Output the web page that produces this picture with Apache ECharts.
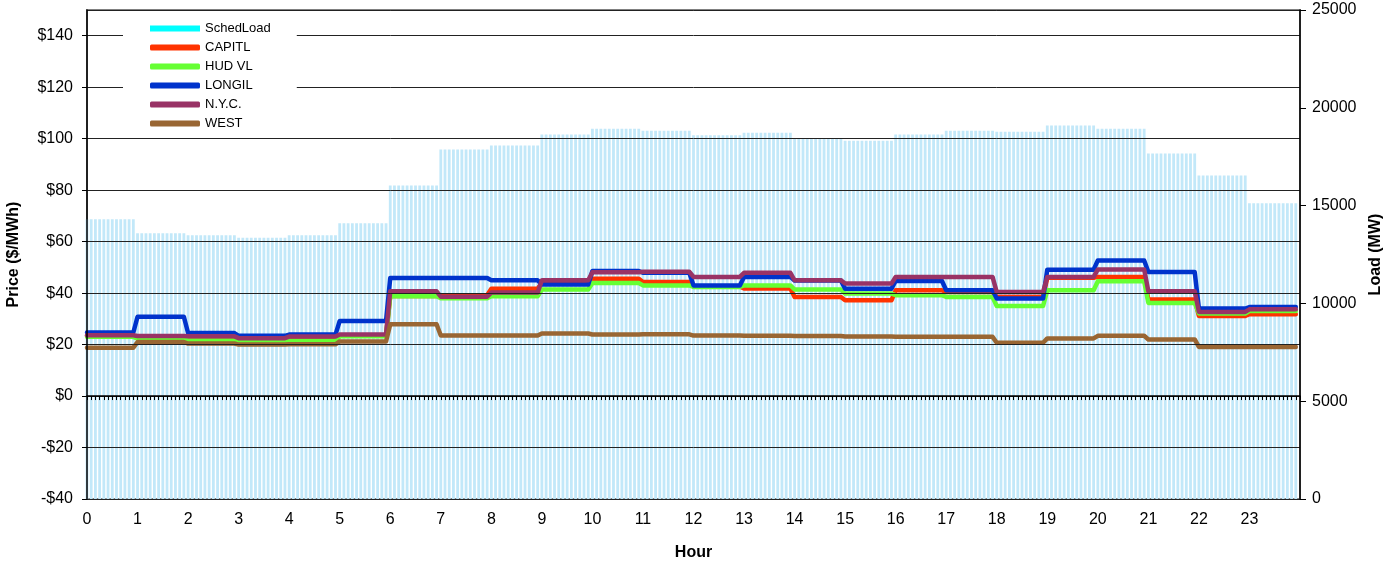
<!DOCTYPE html>
<html>
<head>
<meta charset="utf-8">
<script src="https://cdn.jsdelivr.net/npm/echarts@6/dist/echarts.min.js"></script>
<style>
  html, body { margin: 0; padding: 0; background: #fff; }
  #chart { width: 1390px; height: 567px; }
</style>
</head>
<body>
<div id="chart"></div>
<script>
// hourly values (hour 0..23)
const hours = [0, 1, 2, 3, 4, 5, 6, 7, 8, 9, 10, 11, 12, 13, 14, 15, 16, 17, 18, 19, 20, 21, 22, 23]
const intervalsPerHour = 12 // 5-minute intervals

const schedLoad = [14300, 13590, 13490, 13350, 13490, 14100, 16030, 17870, 18070, 18630, 18930, 18830,
  18600, 18730, 18430, 18320, 18630, 18830, 18780, 19090, 18930, 17660, 16540, 15120]
const capitl = [23.5, 22.5, 22.0, 21.5, 22.0, 23.5, 38.9, 39.2, 41.7, 44.0, 45.6, 44.3,
  42.6, 41.8, 38.5, 37.2, 41.1, 40.4, 38.5, 46.0, 46.3, 37.5, 31.1, 31.8]
const hudVl = [23.0, 22.3, 21.6, 21.2, 21.5, 23.2, 38.8, 38.0, 38.8, 41.4, 43.9, 43.0,
  42.4, 43.0, 41.4, 39.8, 39.2, 38.5, 35.0, 41.1, 44.6, 36.2, 32.1, 33.0]
const longil = [24.7, 30.8, 24.5, 23.4, 23.9, 29.2, 45.9, 45.9, 45.0, 43.3, 48.6, 47.9,
  43.0, 46.3, 44.9, 41.7, 44.7, 41.1, 37.9, 49.1, 52.7, 48.2, 34.0, 34.6]
const nyc = [23.6, 23.3, 23.2, 22.5, 23.1, 23.9, 40.7, 38.6, 40.2, 45.0, 48.1, 48.3,
  46.3, 47.9, 45.0, 43.7, 46.3, 46.3, 40.4, 46.3, 49.2, 40.7, 32.7, 33.7]
const west = [18.8, 21.0, 20.4, 20.0, 20.1, 21.2, 27.9, 23.5, 23.5, 24.3, 23.9, 24.0,
  23.5, 23.4, 23.3, 23.1, 23.0, 23.0, 20.7, 22.4, 23.4, 22.0, 19.1, 19.1]

const priceTicks = { min: -40, max: 150, interval: 20 }
const loadTicks = { min: 0, max: 25000, interval: 5000 }

const font = 'Liberation Sans, Arial, sans-serif'

// each hour is flat from h:00 to h:55, then ramps to the next hour
function stepLine(values) {
  const out = []
  hours.forEach((h, i) => {
    out.push([h, values[i]])
    out.push([h + (intervalsPerHour - 1) / intervalsPerHour, values[i]])
  })
  return out
}

// one bar per 5-minute interval, load held for the hour
function loadBars(values) {
  const out = []
  hours.forEach((h, i) => {
    for (let k = 0; k < intervalsPerHour; k++) {
      out.push([h + k / intervalsPerHour, values[i]])
    }
  })
  return out
}

function lineSeries(name, values, color) {
  return {
    name,
    type: 'line',
    data: stepLine(values),
    showSymbol: false,
    symbol: 'none',
    lineStyle: { color, width: 4.5, cap: 'round', join: 'round' },
    itemStyle: { color },
    z: 4
  }
}

const chart = echarts.init(document.getElementById('chart'))

chart.setOption({
  animation: false,
  backgroundColor: '#fff',
  textStyle: { fontFamily: font },
  grid: {
    left: 87, right: 90, top: 10, bottom: 68,
    outerBoundsMode: 'none',
    containLabel: false,
    show: true, borderColor: '#808080', borderWidth: 2, backgroundColor: 'transparent'
  },
  legend: {
    orient: 'vertical',
    left: 123,
    top: 14,
    padding: [8, 26, 8, 27],
    backgroundColor: '#fff',
    itemGap: 6,
    itemWidth: 50,
    itemHeight: 6,
    textStyle: { fontSize: 13, color: '#000', fontFamily: font },
    data: [
      { name: 'SchedLoad', icon: 'rect', itemStyle: { color: '#00ffff' } },
      { name: 'CAPITL', icon: 'roundRect' },
      { name: 'HUD VL', icon: 'roundRect' },
      { name: 'LONGIL', icon: 'roundRect' },
      { name: 'N.Y.C.', icon: 'roundRect' },
      { name: 'WEST', icon: 'roundRect' }
    ],
    z: 10
  },
  xAxis: [{
    type: 'value',
    min: 0,
    max: 24,
    interval: 1,
    name: 'Hour',
    nameLocation: 'middle',
    nameGap: 46,
    nameTextStyle: { fontSize: 16, fontWeight: 'bold', color: '#000', fontFamily: font },
    axisLine: { onZero: false, lineStyle: { color: '#808080', width: 2 } },
    axisTick: { show: false },
    axisLabel: { fontSize: 16, color: '#000', margin: 13, showMaxLabel: false },
    splitLine: { show: false }
  }, {
    type: 'value',
    position: 'bottom',
    min: 0,
    max: 24,
    interval: 1,
    z: 5,
    axisLine: { onZero: true, onZeroAxisIndex: 0, lineStyle: { color: '#000', width: 1.5 } },
    axisTick: { show: true, length: 4, lineStyle: { color: '#000' } },
    minorTick: { show: true, splitNumber: intervalsPerHour, length: 4, lineStyle: { color: '#000' } },
    axisLabel: { show: false },
    splitLine: { show: false }
  }],
  yAxis: [{
    type: 'value',
    position: 'left',
    min: priceTicks.min,
    max: priceTicks.max,
    interval: priceTicks.interval,
    name: 'Price ($/MWh)',
    nameLocation: 'middle',
    nameGap: 65,
    nameTextStyle: { fontSize: 16, fontWeight: 'bold', color: '#000', fontFamily: font },
    z: 5,
    axisLine: { show: true, onZero: false, lineStyle: { color: '#000', width: 1.5 } },
    axisTick: { show: true, length: 5, lineStyle: { color: '#000' } },
    axisLabel: {
      fontSize: 16, color: '#000', margin: 14, showMaxLabel: false,
      formatter: v => (v < 0 ? '-$' : '$') + Math.abs(v)
    },
    splitLine: { show: true, lineStyle: { color: '#222', width: 1 } }
  }, {
    type: 'value',
    position: 'right',
    min: loadTicks.min,
    max: loadTicks.max,
    interval: loadTicks.interval,
    name: 'Load (MW)',
    nameLocation: 'middle',
    nameGap: 67,
    nameTextStyle: { fontSize: 16, fontWeight: 'bold', color: '#000', fontFamily: font },
    z: 5,
    axisLine: { show: true, onZero: false, lineStyle: { color: '#000', width: 1.5 } },
    axisTick: { show: true, length: 6, lineStyle: { color: '#000' } },
    axisLabel: { fontSize: 16, color: '#000', margin: 12, formatter: v => String(v) },
    splitLine: { show: false }
  }],
  series: [
    {
      name: 'SchedLoad',
      type: 'bar',
      yAxisIndex: 1,
      data: loadBars(schedLoad),
      barWidth: 2.8,
      itemStyle: { color: '#c2e8f9' },
      z: 2
    },
    lineSeries('CAPITL', capitl, '#ff3300'),
    lineSeries('HUD VL', hudVl, '#66ff33'),
    lineSeries('LONGIL', longil, '#0033cc'),
    lineSeries('N.Y.C.', nyc, '#993366'),
    lineSeries('WEST', west, '#996633')
  ]
})
</script>
</body>
</html>
